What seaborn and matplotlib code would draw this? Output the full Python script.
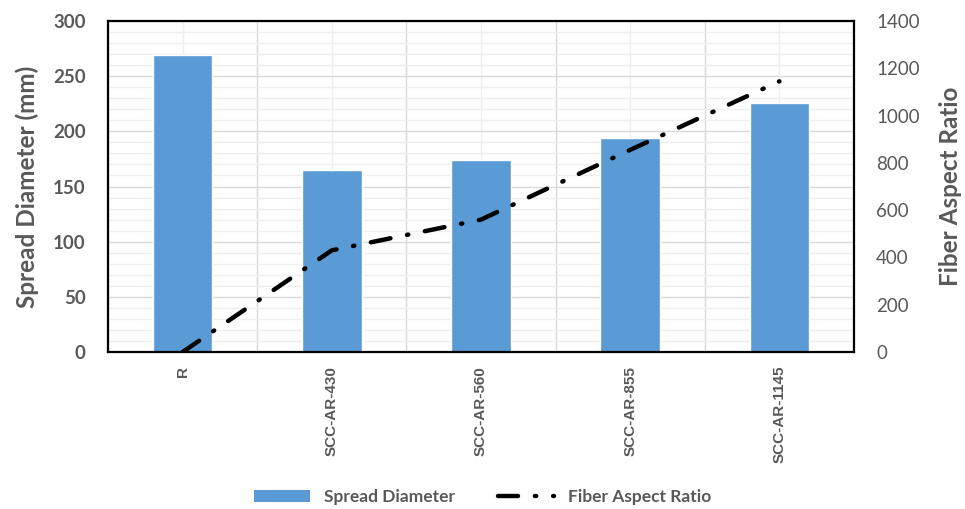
import numpy as np
import pandas as pd
import matplotlib
matplotlib.use("Agg")
import matplotlib.pyplot as plt
import seaborn as sns
from matplotlib.patches import Patch
from matplotlib.lines import Line2D
from matplotlib.ticker import MultipleLocator

# data
categories = ["R", "SCC-AR-430", "SCC-AR-560", "SCC-AR-855", "SCC-AR-1145"]
spread_diameter = [269, 165, 174, 194, 226]
aspect_ratio = [0, 430, 560, 855, 1145]

df = pd.DataFrame({"Mix": categories, "Spread": spread_diameter,
                   "Aspect": aspect_ratio, "idx": np.arange(len(categories))})

sns.set_style("white")
plt.rcParams["font.family"] = ["Lato", "DejaVu Sans"]

grey = "#595959"
blue = "#5b9bd5"

fig = plt.figure(figsize=(9.65, 5.09), dpi=100)
ax = fig.add_axes([0.1119, 0.3084, 0.7731, 0.6503])

sns.barplot(data=df, x="Mix", y="Spread", color=blue, width=0.4,
            saturation=1, ax=ax, zorder=2)

n = len(categories)
ax.set_ylim(0, 300)
ax.set_xlim(-0.5, n - 0.5)
ax.yaxis.set_major_locator(MultipleLocator(50))
ax.yaxis.set_minor_locator(MultipleLocator(10))
# major ticks at category boundaries (gridlines), minor at centres (labels)
ax.set_xticks(np.arange(n) - 0.5, minor=False)
ax.set_xticks(np.arange(n), minor=True)
ax.set_xticklabels([""] * n)
ax.set_xticklabels(categories, minor=True, rotation=90, fontsize=11,
                   fontweight="bold", color=grey, family="Liberation Sans")
ax.grid(True, which="major", color="#d9d9d9", linewidth=1.0, zorder=0)
ax.grid(True, which="minor", color="#efefef", linewidth=1.0, zorder=0)
ax.set_axisbelow(True)
ax.tick_params(axis="both", which="both", length=0)
ax.tick_params(axis="x", which="minor", pad=10)
ax.tick_params(axis="y", labelsize=13.5, labelcolor=grey, pad=16)
for lab in ax.get_yticklabels():
    lab.set_fontweight("bold")
ax.set_xlabel("")
ax.set_ylabel("Spread Diameter (mm)", fontsize=17.5, fontweight="bold",
              color=grey, labelpad=10)

for s in ax.spines.values():
    s.set_visible(True)
    s.set_color("black")
    s.set_linewidth(1.6)

ax2 = ax.twinx()
sns.lineplot(data=df, x="idx", y="Aspect", ax=ax2, color="black",
             linewidth=3.2, dashes=False)
line = ax2.lines[0]
line.set_dashes((4.5, 3.8, 0.3, 3.8))
line.set_dash_capstyle("round")
ax2.set_ylim(0, 1400)
ax2.set_xlim(-0.5, n - 0.5)
ax2.yaxis.set_major_locator(MultipleLocator(200))
ax2.tick_params(axis="y", length=0, labelsize=13.5, labelcolor=grey, pad=16)
ax2.grid(False)
ax2.set_ylabel("Fiber Aspect Ratio", fontsize=17.5, fontweight="bold",
               color=grey, labelpad=14)
for s in ax2.spines.values():
    s.set_visible(False)

handles = [Patch(facecolor=blue, edgecolor="none", label="Spread Diameter"),
           Line2D([0], [0], color="black", linewidth=3.2,
                  dashes=(4.5, 3.8, 0.3, 3.8), dash_capstyle="round",
                  label="Fiber Aspect Ratio")]
fig.legend(handles=handles, loc="center", bbox_to_anchor=(0.5, 0.023),
           ncol=2, frameon=False, handlelength=3.2, columnspacing=2.5,
           prop={"size": 12.5, "weight": "bold"}, labelcolor=grey)

fig.savefig("out.png", dpi=100)
